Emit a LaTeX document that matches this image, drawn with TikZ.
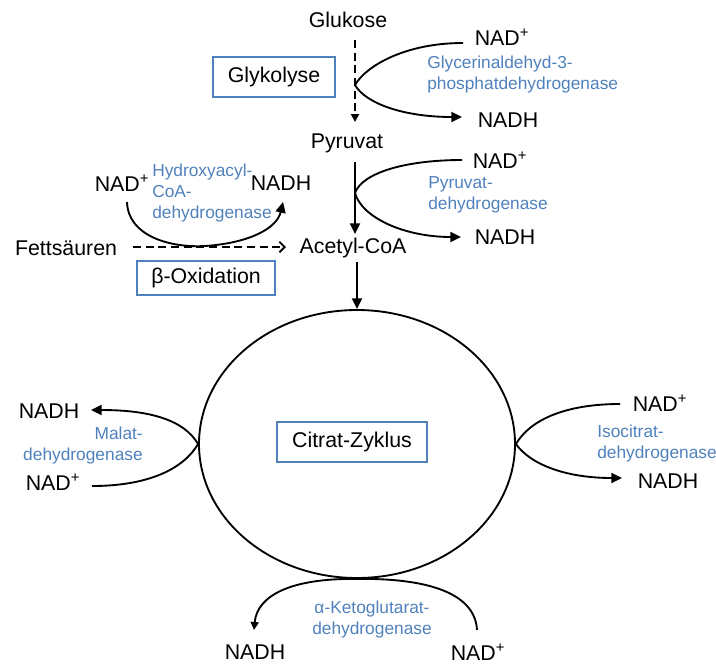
\documentclass[tikz,border=0pt]{standalone}
\usepackage{fontspec}
\setmainfont{Liberation Sans}
\usetikzlibrary{arrows.meta,shapes.geometric}
\definecolor{obl}{RGB}{79,129,189}
\begin{document}
\begin{tikzpicture}[x=0.75pt,y=-0.75pt,
  lbl/.style={inner sep=0pt,font=\fontsize{16}{19}\selectfont},
  enz/.style={inner sep=0pt,text=obl,font=\fontsize{13}{15.75}\selectfont},
  boxed/.style={draw=obl,line width=1.5pt,inner sep=0pt,font=\fontsize{16}{19}\selectfont},
  conn/.style={line width=1.4pt},
  arr/.style={conn,-{Triangle[length=8pt,width=7.5pt]}},
  dsh/.style={conn,dash pattern=on 6pt off 3.5pt}]
\useasboundingbox (0,0) rectangle (716,664);
% main nodes
\node[lbl] (glu) at (348,20) {Glukose};
\node[lbl] (pyr) at (347,143) {Pyruvat};
\node[lbl] (acc) at (353,248) {Acetyl-CoA};
\node[lbl] (fett) at (66,248) {Fettsäuren};
\node[boxed,minimum width=91.5pt,minimum height=30pt] (glyk) at (274,77) {Glykolyse};
\node[boxed,minimum width=103.5pt,minimum height=26pt] (beta) at (206,278) {β-Oxidation};
\node[draw,conn,ellipse,inner sep=0pt,minimum width=237pt,minimum height=201pt] (cyc) at (357,444) {};
\node[boxed,minimum width=112.5pt,minimum height=30pt] (citr) at (352,442) {Citrat-Zyklus};
% cofactors
\node[lbl] (nad1) at (502,37) {NAD\textsuperscript{+}};
\node[lbl] (nadh1) at (508,120) {NADH};
\node[lbl] (nad2) at (500,160) {NAD\textsuperscript{+}};
\node[lbl] (nadh2) at (505,237) {NADH};
\node[lbl] (nad3) at (122,183) {NAD\textsuperscript{+}};
\node[lbl] (nadh3) at (281,183) {NADH};
\node[lbl] (nadhL) at (49,411) {NADH};
\node[lbl] (nadL) at (53,482) {NAD\textsuperscript{+}};
\node[lbl] (nadR) at (660,403) {NAD\textsuperscript{+}};
\node[lbl] (nadhR) at (668,481) {NADH};
\node[lbl] (nadhB) at (255,652) {NADH};
\node[lbl] (nadB) at (478,652) {NAD\textsuperscript{+}};
% enzymes
\node[enz,anchor=west,align=left] (e1) at (427,75) {Glycerinaldehyd-3-\\phosphatdehydrogenase};
\node[enz,anchor=west,align=left] (e2) at (428,195) {Pyruvat-\\dehydrogenase};
\node[enz,anchor=west,align=left] (e3) at (152,193) {Hydroxyacyl-\\CoA-\\dehydrogenase};
\node[enz,anchor=east,align=right] (e4) at (143,446) {Malat-\\dehydrogenase};
\node[enz,anchor=west,align=left] (e5) at (597,444) {Isocitrat-\\dehydrogenase};
\node[enz,align=center] (e6) at (372,620) {α-Ketoglutarat-\\dehydrogenase};
% helper coordinates
\coordinate (g1) at (355,40);
\coordinate (g2) at (355,122);
\coordinate (p1) at (355,162);
\coordinate (p2) at (355,234);
\coordinate (a1) at (357,262);
\coordinate (f1) at (133,247);
\coordinate (f2) at (286,247);
\coordinate (s1) at (463,43);  \coordinate (v1) at (355,85);  \coordinate (t1) at (462,117);
\coordinate (s2) at (462,160); \coordinate (v2) at (355,193); \coordinate (t2) at (461,237);
\coordinate (s3) at (127,202); \coordinate (t3) at (283,202);
\coordinate (sL) at (92,486);  \coordinate (tL) at (91,410);
\coordinate (sR) at (620,404); \coordinate (tR) at (622,478);
\coordinate (sB) at (477,630); \coordinate (tB) at (254,630);
% main flow
\draw[dsh,-{Triangle[length=6pt,width=6pt]}] (g1) -- (g2);
\draw[arr] (p1) -- (p2);
\draw[arr] (a1) -- (cyc.north);
\draw[dsh,-{Straight Barb[length=4pt,width=8pt]}] (f1) -- (f2);
% Glykolyse NAD
\draw[arr] (s1) .. controls (405,43) and (366,66) .. (v1)
  .. controls (366,104) and (405,117) .. (t1);
% Pyruvat NAD
\draw[arr] (s2) .. controls (405,160) and (362,173) .. (v2)
  .. controls (362,218) and (405,237) .. (t2);
% beta oxidation NAD
\draw[arr] (s3) .. controls (128,236) and (170,248) .. (205,246)
  .. controls (250,243) and (277,228) .. (t3);
% Malat
\draw[arr] (sL) .. controls (150,486) and (184,468) .. (cyc.west)
  .. controls (184,420) and (150,410) .. (tL);
% Isocitrat
\draw[arr] (sR) .. controls (565,404) and (530,420) .. (cyc.east)
  .. controls (530,464) and (565,478) .. (tR);
% Ketoglutarat
\draw[conn,-{Triangle[length=6pt,width=6pt]}] (sB) .. controls (475,592) and (425,578) .. (cyc.south)
  .. controls (290,578) and (257,596) .. (tB);
\end{tikzpicture}
\end{document}
